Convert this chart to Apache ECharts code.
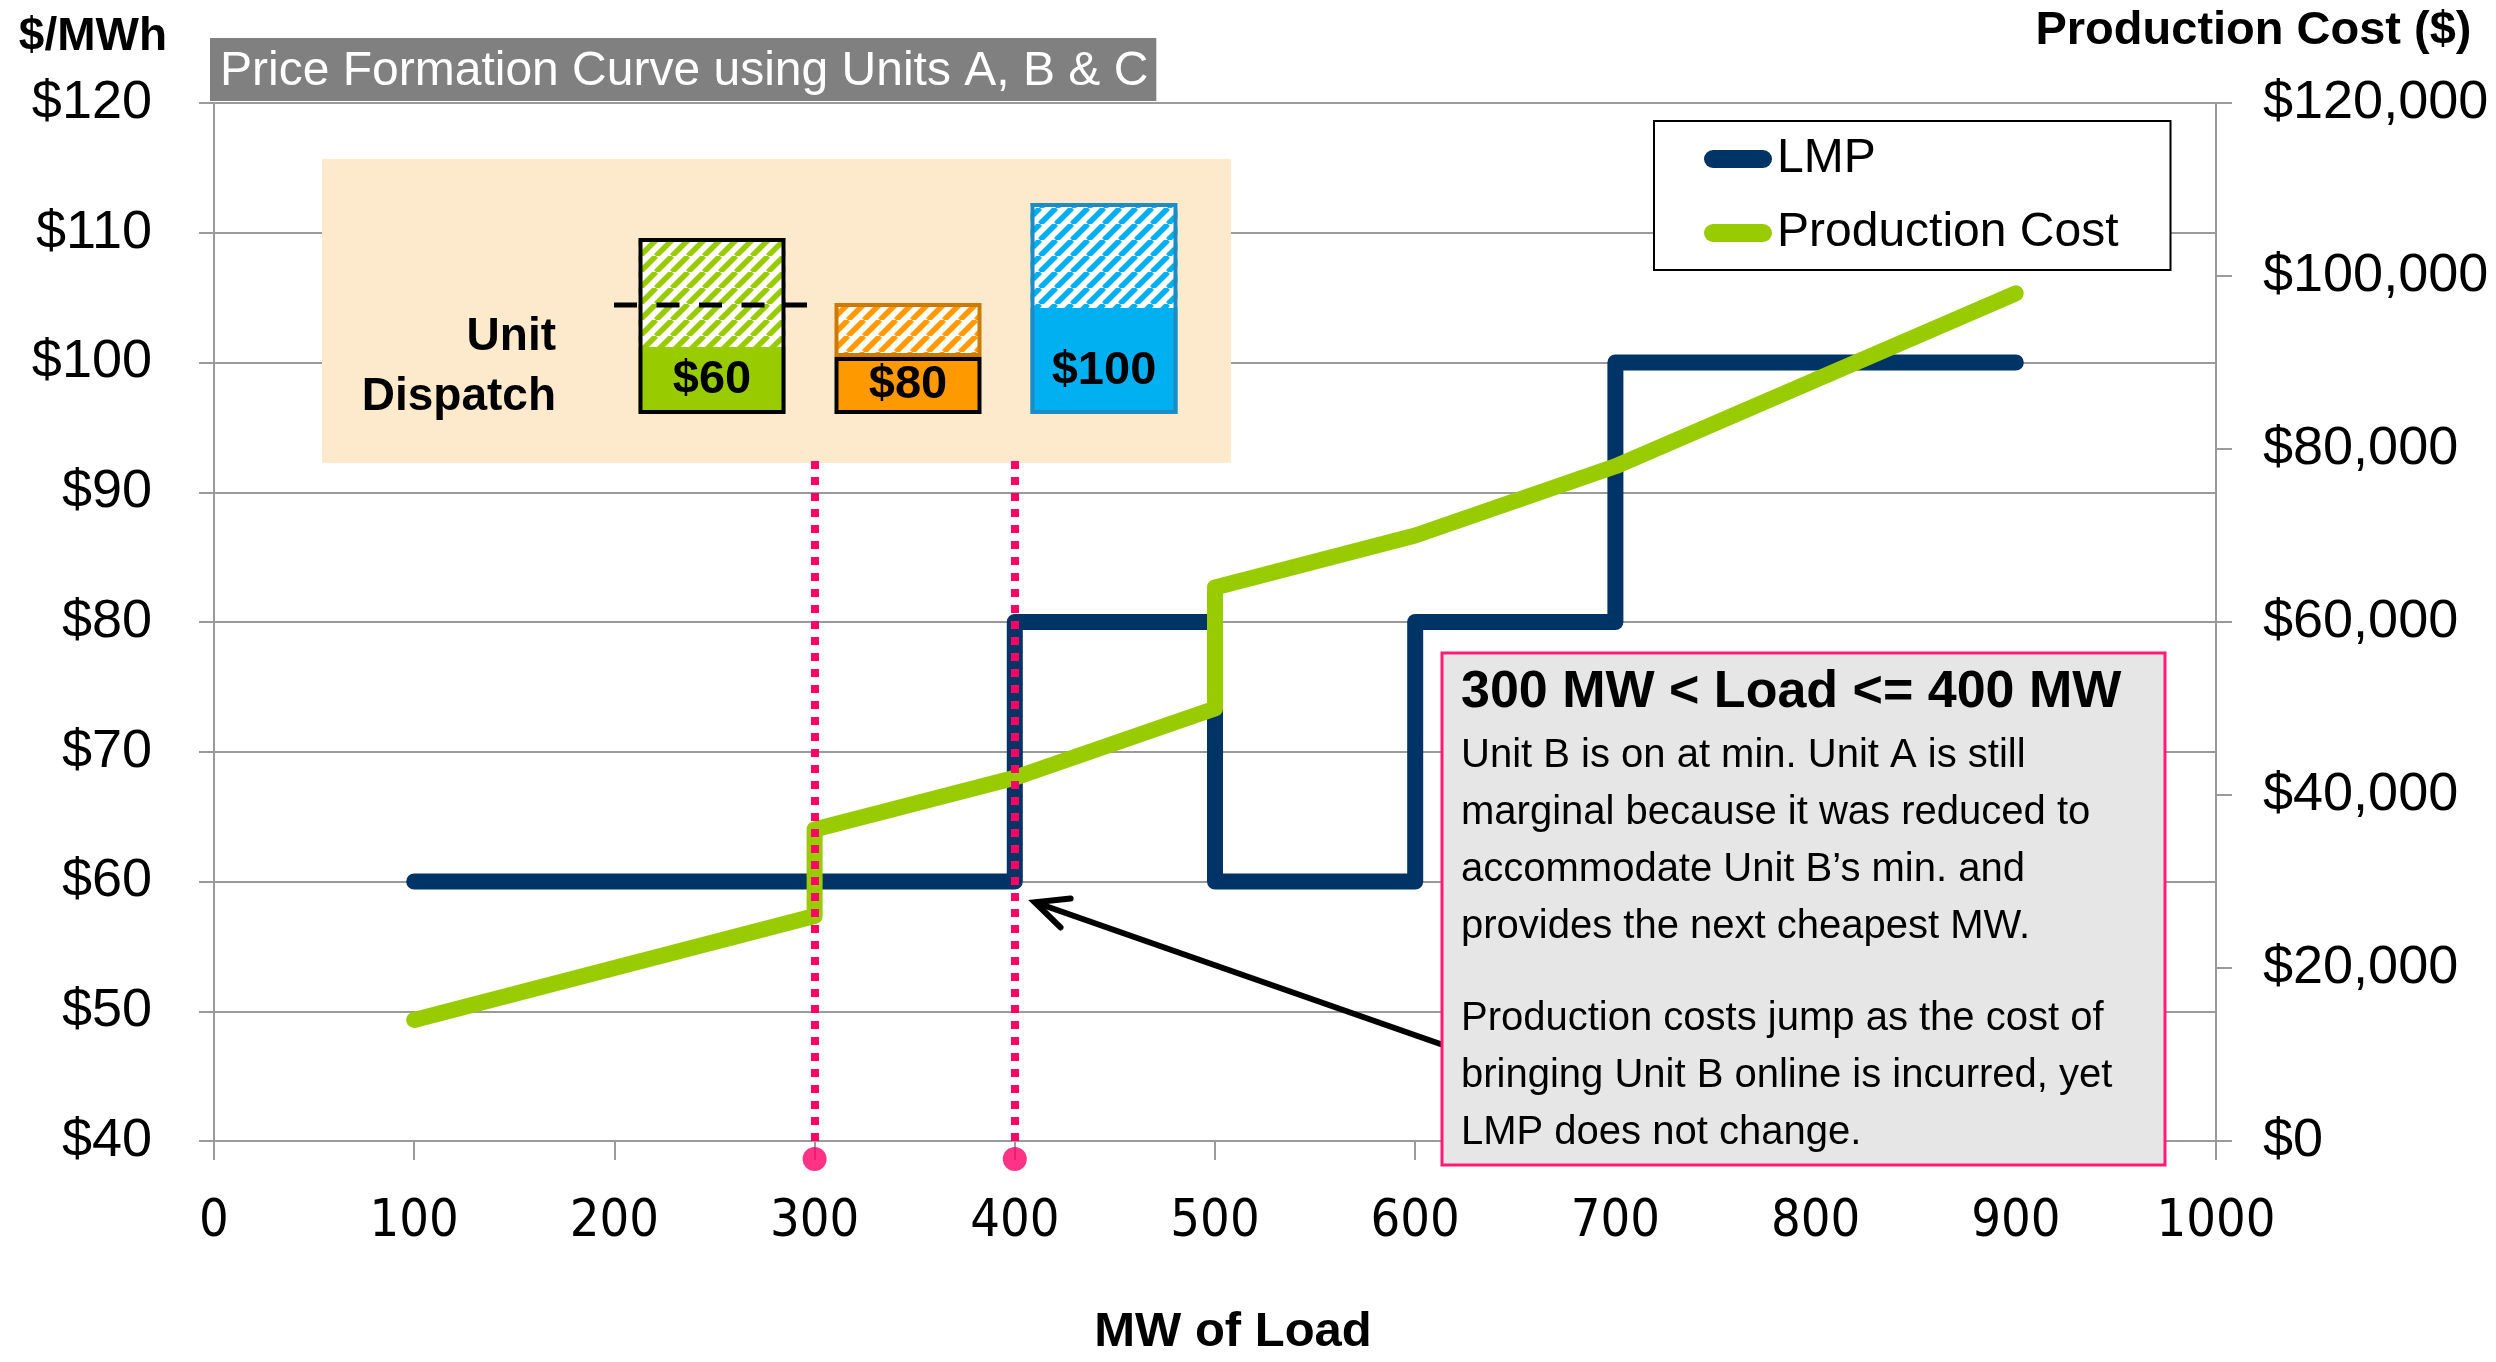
<!DOCTYPE html>
<html>
<head>
<meta charset="utf-8">
<title>Price Formation Curve</title>
<script src="https://cdn.jsdelivr.net/npm/echarts@6/dist/echarts.min.js"></script>
<style>
  html, body { margin: 0; padding: 0; background: #fff; }
  #chart { width: 2496px; height: 1362px; }
</style>
</head>
<body>
<div id="chart"></div>
<script>
// ---- data -------------------------------------------------------------
// LMP step curve: load (MW) breakpoints and price ($/MWh)
const lmpLoad  = [100, 300, 400, 400, 500, 500, 600, 600, 700, 700, 900];
const lmpPrice = [60, 60, 60, 80, 80, 60, 60, 80, 80, 100, 100];

// Production cost ($) against load (MW)
const costLoad  = [100, 300, 300, 400, 500, 500, 600, 700, 900];
const costValue = [14000, 26000, 36000, 42000, 50000, 64000, 70000, 78000, 98000];

// Loads bounding the interval described in the note
const markerLoads = [300, 400];

// Unit dispatch inset: offer price, block at minimum output, flexible block above it
const unitNames     = ['Unit A', 'Unit B', 'Unit C'];
const unitOffer     = [60, 80, 100];
const unitMinBlock  = [67, 57, 106];
const unitFlexBlock = [109, 54, 105];
const unitAReduced  = 109;   // level Unit A is backed down to

// Axis ranges
const xRange    = { min: 0, max: 1000, interval: 100 };
const lmpRange  = { min: 40, max: 120, interval: 10 };
const costRange = { min: 0, max: 120000, interval: 20000 };

// ---- styling ----------------------------------------------------------
const FONT = '"Liberation Sans", Arial, sans-serif';
const NAVY = '#003366', LIME = '#99cc00', PINK = '#ff0066', GRID = '#9a9a9a';
const unitSolid  = ['#99cc00', '#ff9900', '#00b0f0'];
const unitStripe = ['#99cc00', '#ff9900', '#00b0f0'];

// pick the narrowest installed sans face for the load tick labels
function fontInstalled(name) {
  const g = document.createElement('canvas').getContext('2d');
  const probe = 'mmmmwwwwlli 0123456789';
  return ['monospace', 'serif'].some(base => {
    g.font = '40px ' + base;
    const a = g.measureText(probe).width;
    g.font = '40px "' + name + '", ' + base;
    return g.measureText(probe).width !== a;
  });
}
const narrowFamily = ['Liberation Sans Narrow', 'Arial Narrow', 'DejaVu Sans Condensed',
  'Noto Sans Condensed', 'Roboto Condensed', 'Open Sans Condensed']
  .find(fontInstalled) || 'Liberation Sans';
const NARROW = '"' + narrowFamily + '", "Liberation Sans", sans-serif';
const narrowSize = (() => {
  const g = document.createElement('canvas').getContext('2d');
  g.font = '100px ' + NARROW;
  const w = g.measureText('1000').width;
  return Math.min(63, Math.round(12000 / w));
})();

function hatch(color) {
  const s = 16;
  const c = document.createElement('canvas');
  c.width = s; c.height = s;
  const g = c.getContext('2d');
  g.fillStyle = '#fff';
  g.fillRect(0, 0, s, s);
  g.strokeStyle = color;
  g.lineWidth = 5.5;
  g.beginPath();
  for (let k = -1; k <= 1; k++) {
    g.moveTo(k * s, s);
    g.lineTo(k * s + s, 0);
  }
  g.stroke();
  return c;
}

const axisGray = { color: GRID, width: 2 };

const option = {
  animation: false,
  textStyle: { fontFamily: FONT },
  title: {
    text: 'Price Formation Curve using Units A, B & C',
    left: 210, top: 38,
    padding: [4, 8, 0, 10],
    backgroundColor: '#808080',
    textStyle: { color: '#fff', fontSize: 48, fontWeight: 'normal', fontFamily: FONT, lineHeight: 59 }
  },
  legend: {
    data: ['LMP', 'Production Cost'],
    orient: 'vertical',
    left: 1654, top: 121,
    padding: [10, 52, 9, 50],
    itemWidth: 68, itemHeight: 18, itemGap: 18,
    icon: 'path://M9,0 L59,0 A9,9 0 0 1 59,18 L9,18 A9,9 0 0 1 9,0 Z',
    selectedMode: false,
    borderColor: '#000', borderWidth: 2, backgroundColor: '#fff',
    textStyle: { fontSize: 48, fontFamily: FONT, color: '#000', lineHeight: 56 }
  },
  grid: [
    { left: 214, right: 280, top: 103, bottom: 221, containLabel: false, outerBoundsMode: 'none' },
    { left: 614, top: 164, width: 588, height: 250, containLabel: false, outerBoundsMode: 'none' }
  ],
  xAxis: [
    {
      type: 'value', gridIndex: 0,
      min: xRange.min, max: xRange.max, interval: xRange.interval,
      axisLine: { show: true, onZero: false, lineStyle: axisGray },
      axisTick: { show: true, length: 19, lineStyle: axisGray },
      axisLabel: { formatter: v => String(v), fontFamily: NARROW, fontSize: narrowSize, color: '#000',
                   margin: 49 + Math.round((63 - narrowSize) / 2) },
      splitLine: { show: false },
      name: 'MW of Load', nameLocation: 'middle', nameGap: 191,
      nameTextStyle: { fontFamily: FONT, fontWeight: 'bold', fontSize: 49, color: '#000',
                       verticalAlign: 'middle', align: 'center', padding: [0, 0, 0, 36] }
    },
    { type: 'category', gridIndex: 1, data: unitNames, show: false }
  ],
  yAxis: [
    {
      type: 'value', gridIndex: 0, position: 'left',
      min: lmpRange.min, max: lmpRange.max, interval: lmpRange.interval,
      axisLine: { show: true, lineStyle: axisGray },
      axisTick: { show: true, length: 15, lineStyle: axisGray },
      axisLabel: { formatter: v => '$' + v, fontSize: 54, color: '#000', margin: 62, fontFamily: FONT },
      splitLine: { show: true, lineStyle: axisGray },
      name: '$/MWh', nameLocation: 'end', nameGap: 66,
      nameTextStyle: { fontFamily: FONT, fontWeight: 'bold', fontSize: 46, color: '#000',
                       align: 'right', verticalAlign: 'middle', padding: [0, 47, 0, 0] }
    },
    {
      type: 'value', gridIndex: 0, position: 'right',
      min: costRange.min, max: costRange.max, interval: costRange.interval,
      axisLine: { show: true, lineStyle: axisGray },
      axisTick: { show: true, length: 16, lineStyle: axisGray },
      axisLabel: { formatter: v => '$' + v.toLocaleString('en-US'), fontSize: 54, color: '#000', margin: 47, fontFamily: FONT },
      splitLine: { show: false },
      name: 'Production Cost ($)', nameLocation: 'end', nameGap: 72,
      nameTextStyle: { fontFamily: FONT, fontWeight: 'bold', fontSize: 47, color: '#000',
                       align: 'center', verticalAlign: 'middle', padding: [0, 0, 0, 75] }
    },
    { type: 'value', gridIndex: 1, min: 0, max: 250, show: false }
  ],
  series: [
    {
      name: 'LMP', type: 'line', xAxisIndex: 0, yAxisIndex: 0,
      data: lmpLoad.map((x, i) => [x, lmpPrice[i]]),
      showSymbol: false, silent: true, z: 2,
      itemStyle: { color: NAVY },
      lineStyle: { color: NAVY, width: 16, cap: 'round', join: 'round' }
    },
    {
      name: 'Production Cost', type: 'line', xAxisIndex: 0, yAxisIndex: 1,
      data: costLoad.map((x, i) => [x, costValue[i]]),
      showSymbol: false, silent: true, z: 3,
      itemStyle: { color: LIME },
      lineStyle: { color: LIME, width: 16, cap: 'round', join: 'round' }
    },
    {
      name: 'Interval', type: 'scatter', xAxisIndex: 0, yAxisIndex: 0,
      data: markerLoads.map(x => [x, lmpRange.min]),
      symbol: 'circle', symbolSize: 24, symbolOffset: [0, 18],
      clip: false, silent: true, z: 5,
      itemStyle: { color: PINK },
      markLine: {
        silent: true, symbol: 'none', animation: false,
        label: { show: false },
        lineStyle: { color: PINK, width: 8, type: [8, 8], cap: 'butt' },
        data: markerLoads.map(x => [{ coord: [x, lmpRange.min] }, { coord: [x, 92.6] }])
      }
    },
    {
      name: 'Min block', type: 'bar', xAxisIndex: 1, yAxisIndex: 2, stack: 'unit',
      barWidth: 147, silent: true, z: 4,
      data: unitMinBlock.map((v, i) => ({
        value: v,
        itemStyle: { color: unitSolid[i], borderColor: i === 1 ? '#000' : 'rgba(0,0,0,0)', borderWidth: i === 1 ? 4 : 0 },
        label: i === 2 ? { offset: [0, 10] } : {}
      })),
      label: {
        show: true, position: 'inside', color: '#000',
        fontFamily: FONT, fontWeight: 'bold', fontSize: 47,
        formatter: p => '$' + unitOffer[p.dataIndex]
      }
    },
    {
      name: 'Flexible block', type: 'bar', xAxisIndex: 1, yAxisIndex: 2, stack: 'unit',
      barWidth: 147, silent: true, z: 4,
      data: unitFlexBlock.map((v, i) => ({
        value: v,
        itemStyle: {
          color: { image: hatch(unitStripe[i]), repeat: 'repeat' },
          borderColor: i === 1 ? '#cc7a00' : 'rgba(0,0,0,0)', borderWidth: i === 1 ? 4 : 0
        }
      }))
    },
    {
      name: 'Unit outline', type: 'bar', xAxisIndex: 1, yAxisIndex: 2,
      barWidth: 147, barGap: '-100%', silent: true, z: 5,
      data: unitMinBlock.map((v, i) => ({
        value: v + unitFlexBlock[i],
        itemStyle: {
          color: 'rgba(0,0,0,0)',
          borderColor: ['#000', 'rgba(0,0,0,0)', '#1e8bc3'][i],
          borderWidth: [4, 0, 4][i]
        }
      }))
    }
  ]
};

const chart = echarts.init(document.getElementById('chart'), null, { renderer: 'canvas' });
chart.setOption(option);

// ---- annotations placed from axis coordinates ---------------------------
const toMain  = pt => chart.convertToPixel({ xAxisIndex: 0, yAxisIndex: 0 }, pt);
const toInset = pt => chart.convertToPixel({ xAxisIndex: 1, yAxisIndex: 2 }, pt);

// arrow pointing at the LMP corner at 400 MW
const tip  = toMain([410, 58.4]);
const tail = toMain([614, 47.4]);
const ang  = Math.atan2(tail[1] - tip[1], tail[0] - tip[0]);
const arm  = s => [tip[0] + 36 * Math.cos(ang + s * 0.44), tip[1] + 36 * Math.sin(ang + s * 0.44)];

// dashed level across Unit A
const aLevel = toInset([unitNames[0], unitAReduced]);

const note1 = [
  'Unit B is on at min. Unit A is still',
  'marginal because it was reduced to',
  'accommodate Unit B\u2019s min. and',
  'provides the next cheapest MW.'
].join('\n');
const note2 = [
  'Production costs jump as the cost of',
  'bringing Unit B online is incurred, yet',
  'LMP does not change.'
].join('\n');

chart.setOption({
  graphic: [
    // unit dispatch panel background
    { type: 'rect', z: 1, silent: true,
      shape: { x: 322, y: 159, width: 909, height: 304 },
      style: { fill: '#fde9cb' } },
    { type: 'text', z: 6, silent: true, x: 556, y: 367,
      style: { text: 'Unit\nDispatch', fill: '#000', font: 'bold 46px ' + FONT,
               align: 'right', verticalAlign: 'middle', lineHeight: 60 } },
    { type: 'line', z: 7, silent: true,
      shape: { x1: aLevel[0] - 98, y1: aLevel[1], x2: aLevel[0] + 96, y2: aLevel[1] },
      style: { stroke: '#000', lineWidth: 5, lineDash: [23, 19.5] } },

    // arrow
    { type: 'line', z: 8, silent: true,
      shape: { x1: tail[0], y1: tail[1], x2: tip[0], y2: tip[1] },
      style: { stroke: '#000', lineWidth: 6 } },
    { type: 'polyline', z: 8, silent: true,
      shape: { points: [arm(-1), tip, arm(1)] },
      style: { stroke: '#000', fill: null, lineWidth: 6, lineCap: 'round', lineJoin: 'miter' } },

    // explanatory note
    { type: 'rect', z: 10, silent: true,
      shape: { x: 1442, y: 653, width: 723, height: 512 },
      style: { fill: '#e6e6e6', stroke: '#ff1a75', lineWidth: 3 } },
    { type: 'text', z: 11, silent: true, x: 1461, y: 693,
      style: { text: '300 MW < Load <= 400 MW', fill: '#000', font: 'bold 52px ' + FONT,
               align: 'left', verticalAlign: 'middle' } },
    { type: 'text', z: 11, silent: true, x: 1461, y: 727,
      style: { text: note1, fill: '#000', font: '40px ' + FONT,
               align: 'left', verticalAlign: 'top', lineHeight: 57 } },
    { type: 'text', z: 11, silent: true, x: 1461, y: 990,
      style: { text: note2, fill: '#000', font: '40px ' + FONT,
               align: 'left', verticalAlign: 'top', lineHeight: 57 } }
  ]
});
</script>
</body>
</html>
